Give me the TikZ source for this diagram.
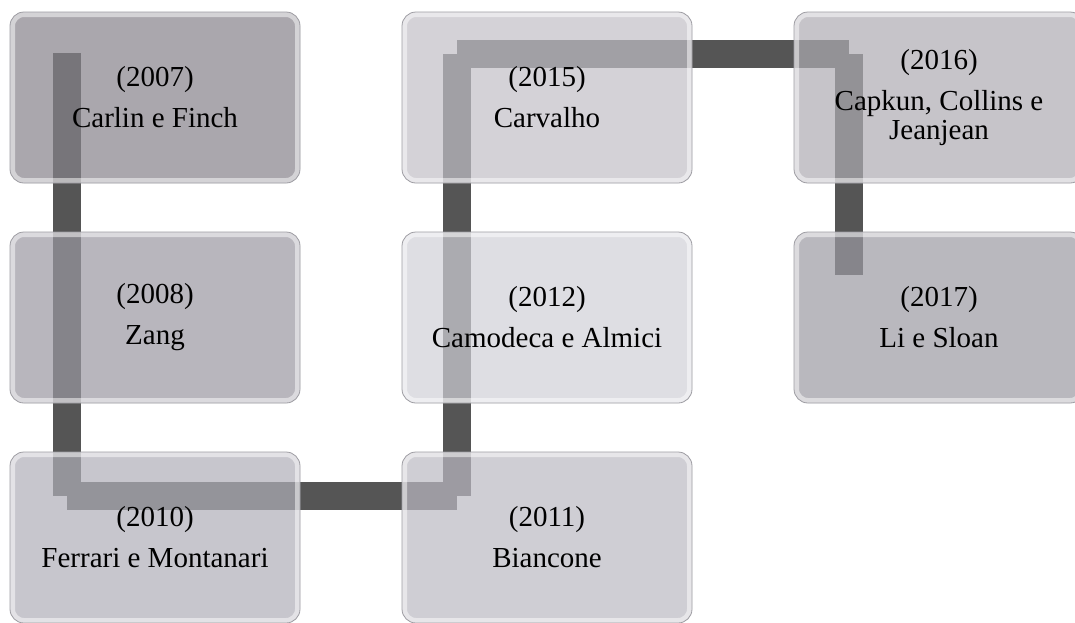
\documentclass[tikz,border=0pt]{standalone}
\usepackage{fontspec}
\setmainfont{Liberation Serif}
\definecolor{Bar}{RGB}{85,85,85}
\definecolor{Edge}{RGB}{158,157,163}
\definecolor{Tone07}{RGB}{134,131,139}
\definecolor{Tone08}{RGB}{154,152,161}
\definecolor{Tone10}{RGB}{176,175,184}
\definecolor{Tone11}{RGB}{188,186,195}
\definecolor{Tone12}{RGB}{208,208,216}
\definecolor{Tone15}{RGB}{194,192,199}
\definecolor{Tone16}{RGB}{174,172,179}
\definecolor{Tone17}{RGB}{156,154,163}
\usetikzlibrary{positioning,calc}
\pgfdeclarelayer{back}
\pgfsetlayers{back,main}

\begin{document}
\begin{tikzpicture}[x=1pt,y=-1pt,
    yearbox/.style={rounded corners=14pt,minimum width=290pt,minimum height=171pt,
      inner sep=0pt,outer sep=0pt,align=center,fill opacity=0.7,text opacity=1,
      draw=Edge,line width=0.8pt,font=\fontsize{29}{29}\selectfont,
      path picture={\draw[white,draw opacity=0.5,line width=10pt,rounded corners=14pt]
        (path picture bounding box.south west) rectangle (path picture bounding box.north east);}},
    bar/.style={draw=Bar,line width=28pt}]
  \useasboundingbox (0,0) rectangle (1075,622);
  \node[yearbox,fill=Tone07] (carlin) at (155,97.5) {(2007)\\[12pt]Carlin e Finch};
  \node[yearbox,fill=Tone08,below=49pt of carlin] (zang) {(2008)\\[12pt]Zang};
  \node[yearbox,fill=Tone10,below=49pt of zang] (ferrari) {(2010)\\[12pt]Ferrari e Montanari};
  \node[yearbox,fill=Tone11,right=102pt of ferrari] (biancone) {(2011)\\[12pt]Biancone};
  \node[yearbox,fill=Tone12,above=49pt of biancone] (camodeca) {(2012)\\[12pt]Camodeca e Almici};
  \node[yearbox,fill=Tone15,above=49pt of camodeca] (carvalho) {(2015)\\[12pt]Carvalho};
  \node[yearbox,fill=Tone16,right=102pt of carvalho] (capkun) {(2016)\\[12pt]Capkun, Collins e\\Jeanjean};
  \node[yearbox,fill=Tone17,below=49pt of capkun] (li) {(2017)\\[12pt]Li e Sloan};
  \coordinate (a1) at ($(carlin.north west)+(57,41)$);
  \coordinate (a2) at ($(ferrari.north west)+(57,44)$);
  \coordinate (a3) at ($(biancone.north west)+(55,44)$);
  \coordinate (a4) at ($(carvalho.north west)+(55,42)$);
  \coordinate (a5) at ($(capkun.north west)+(55,42)$);
  \coordinate (a6) at ($(li.north west)+(55,43)$);
  \begin{pgfonlayer}{back}
    \fill[white] (0,0) rectangle (1075,622);
    \foreach \s/\t in {a1/a2,a2/a3,a3/a4,a4/a5,a5/a6}
      \draw[bar] (\s) -- (\t);
  \end{pgfonlayer}
\end{tikzpicture}
\end{document}
